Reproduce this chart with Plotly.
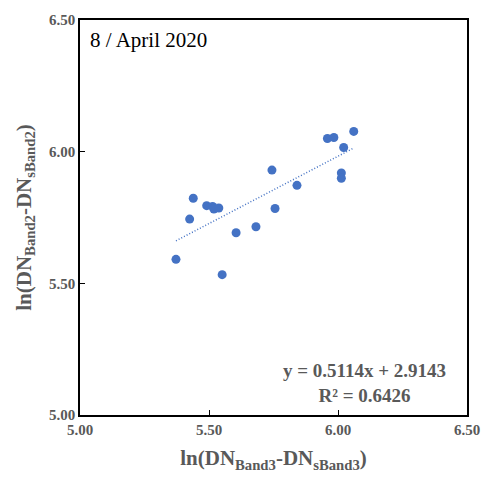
import numpy as np
import plotly.graph_objects as go

# Log-transformed digital numbers, 8 April 2020
x_band3 = [5.372, 5.425, 5.439, 5.491, 5.514, 5.519, 5.538, 5.551, 5.605, 5.682,
           5.744, 5.756, 5.841, 5.959, 5.984, 6.022, 6.013, 6.013, 6.061]
y_band2 = [5.591, 5.744, 5.823, 5.795, 5.792, 5.782, 5.786, 5.533, 5.692, 5.715,
           5.930, 5.784, 5.872, 6.050, 6.054, 6.016, 5.919, 5.899, 6.077]

slope = 0.5114
intercept = 2.9143
r_squared = 0.6426
tick_vals = [5.00, 5.50, 6.00, 6.50]
tick_text = ["<b>5.00</b>", "<b>5.50</b>", "<b>6.00</b>", "<b>6.50</b>"]

serif = "Liberation Serif, Times New Roman, serif"
gray = "#595959"
blue = "#4472C4"

fit_x = np.array([min(x_band3), max(x_band3)])
fit_y = slope * fit_x + intercept

fig = go.Figure()
fig.add_trace(go.Scatter(
    x=x_band3, y=y_band2, mode="markers",
    marker=dict(color=blue, size=9, line=dict(width=0)),
    showlegend=False,
))
fig.add_trace(go.Scatter(
    x=fit_x, y=fit_y, mode="lines",
    line=dict(color=blue, width=1.5, dash="1px,2px"),
    showlegend=False,
))

axis_common = dict(
    range=[5.0, 6.5], tickvals=tick_vals, ticktext=tick_text,
    showgrid=False, zeroline=False,
    showline=True, linecolor="black", linewidth=1.5, mirror=True,
    ticks="inside", ticklen=5, tickcolor="black", tickwidth=1,
    tickfont=dict(family=serif, size=15, color=gray),
)

fig.update_layout(
    width=492, height=478,
    margin=dict(l=80, r=18, t=16, b=63),
    paper_bgcolor="white", plot_bgcolor="white",
    xaxis=dict(**axis_common,
               title=dict(text="<b>ln(DN<sub>Band3</sub>-DN<sub>sBand3</sub>)</b>",
                          font=dict(family=serif, size=21, color=gray),
                          standoff=14)),
    yaxis=dict(**axis_common,
               title=dict(text="<b>ln(DN<sub>Band2</sub>-DN<sub>sBand2</sub>)</b>",
                          font=dict(family=serif, size=21, color=gray),
                          standoff=12)),
    annotations=[
        dict(text="8 / April 2020", xref="paper", yref="paper", x=0.02, y=0.985,
             xanchor="left", yanchor="top", showarrow=False,
             font=dict(family=serif, size=21, color="black")),
        dict(text=f"<b>y = {slope:.4f}x + {intercept:.4f}<br>R² = {r_squared:.4f}</b>",
             xref="paper", yref="paper", x=0.735, y=0.08,
             xanchor="center", yanchor="middle", showarrow=False, align="center",
             font=dict(family=serif, size=19, color=gray)),
    ],
)

fig.write_html("out.html")
